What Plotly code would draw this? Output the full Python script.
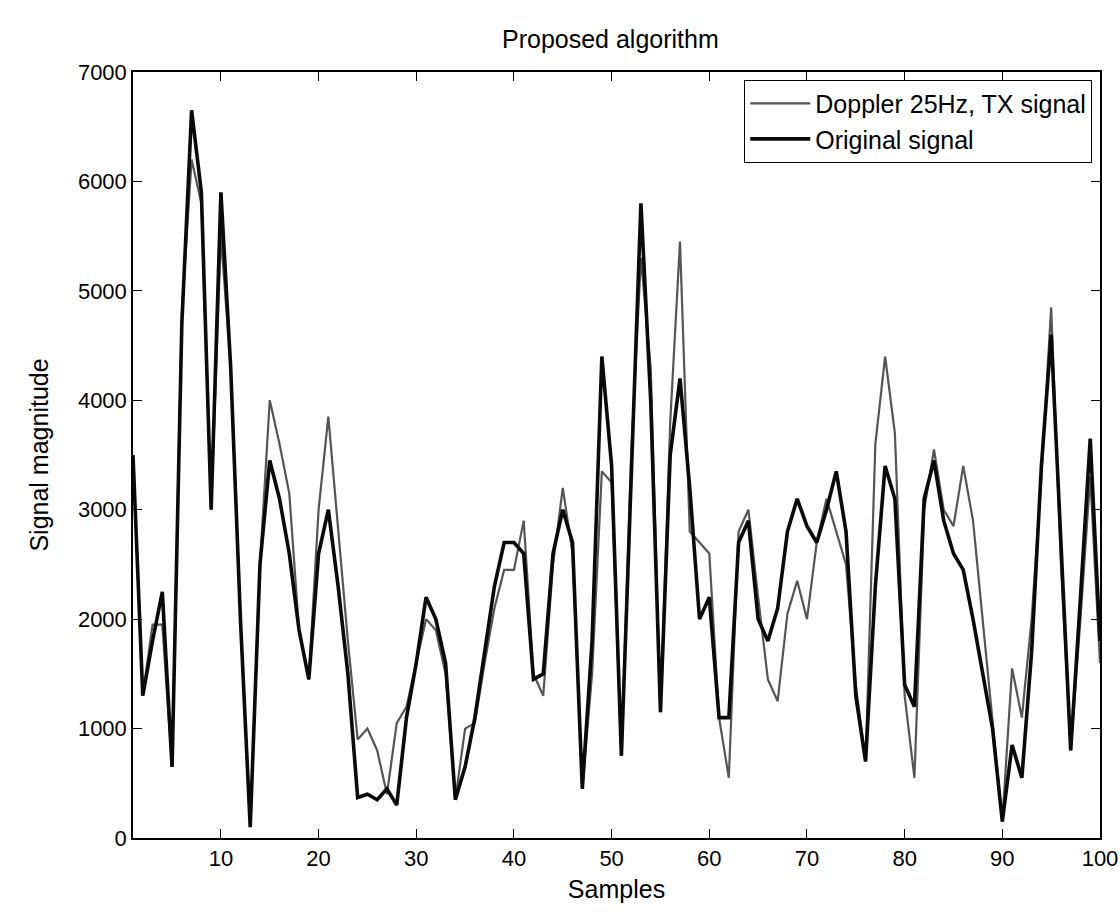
import plotly.graph_objects as go

samples = list(range(1, 101))

doppler_tx = [3500, 1300, 1950, 1950, 650, 4800, 6200, 5800, 3000, 5500,
              4300, 2000, 100, 2500, 4000, 3600, 3150, 1900, 1450, 3000,
              3850, 2800, 1800, 900, 1000, 800, 400, 1050, 1200, 1600,
              2000, 1900, 1500, 350, 1000, 1050, 1600, 2100, 2450, 2450,
              2900, 1500, 1300, 2500, 3200, 2600, 450, 1500, 3350, 3250,
              750, 3500, 5300, 4300, 1150, 3800, 5450, 2800, 2700, 2600,
              1100, 550, 2800, 3000, 2200, 1450, 1250, 2050, 2350, 2000,
              2700, 3100, 2800, 2500, 1400, 700, 3600, 4400, 3700, 1300,
              550, 3000, 3550, 3000, 2850, 3400, 2900, 2000, 1100, 150,
              1550, 1100, 2000, 3300, 4850, 2500, 800, 2000, 3300, 1600]

original = [3500, 1300, 1800, 2250, 650, 4700, 6650, 5900, 3000, 5900,
            4300, 2000, 100, 2500, 3450, 3100, 2600, 1900, 1450, 2600,
            3000, 2300, 1500, 370, 400, 350, 450, 300, 1100, 1600,
            2200, 2000, 1600, 350, 650, 1100, 1700, 2300, 2700, 2700,
            2600, 1450, 1500, 2600, 3000, 2700, 450, 1800, 4400, 3400,
            750, 3200, 5800, 4000, 1150, 3500, 4200, 3200, 2000, 2200,
            1100, 1100, 2700, 2900, 2000, 1800, 2100, 2800, 3100, 2850,
            2700, 3000, 3350, 2800, 1300, 700, 2300, 3400, 3100, 1400,
            1200, 3100, 3450, 2900, 2600, 2450, 2000, 1500, 1000, 150,
            850, 550, 1700, 3400, 4600, 2700, 800, 2200, 3650, 1800]

x_ticks = [10, 20, 30, 40, 50, 60, 70, 80, 90, 100]
y_ticks = [0, 1000, 2000, 3000, 4000, 5000, 6000, 7000]

fig = go.Figure()
fig.add_trace(go.Scatter(x=samples, y=doppler_tx, mode="lines",
                         name="Doppler 25Hz, TX signal",
                         line=dict(color="#555555", width=2.2)))
fig.add_trace(go.Scatter(x=samples, y=original, mode="lines",
                         name="Original signal",
                         line=dict(color="#0a0a0a", width=3.6)))

font_family = "Liberation Sans, Arial, sans-serif"

fig.update_layout(
    width=1120, height=913,
    margin=dict(l=133, r=20, t=72, b=75),
    paper_bgcolor="white", plot_bgcolor="white",
    font=dict(family=font_family, size=22, color="black"),
    title=dict(text="Proposed algorithm", x=0.545, xanchor="center",
               xref="container", y=0.957, yanchor="middle",
               font=dict(size=25, family=font_family)),
    showlegend=True,
    legend=dict(x=0.992, y=0.99, xanchor="right", yanchor="top",
                bordercolor="black", borderwidth=1, bgcolor="white",
                font=dict(size=25), itemwidth=60,
                tracegroupgap=0),
)
fig.update_xaxes(range=[1, 100], tickvals=x_ticks, automargin=False,
                 ticks="inside", ticklen=9, tickcolor="black",
                 tickfont=dict(size=22),
                 showline=True, linecolor="black", linewidth=1.5, mirror="ticks",
                 showgrid=False, zeroline=False,
                 title=dict(text="Samples", standoff=10, font=dict(size=25)))
fig.update_yaxes(range=[0, 7000], tickvals=y_ticks, automargin=False,
                 ticks="inside", ticklen=9, tickcolor="black",
                 tickfont=dict(size=22),
                 showline=True, linecolor="black", linewidth=1.5, mirror="ticks",
                 showgrid=False, zeroline=False,
                 title=dict(text="Signal magnitude", standoff=22, font=dict(size=25)))

fig.write_html("out.html")
